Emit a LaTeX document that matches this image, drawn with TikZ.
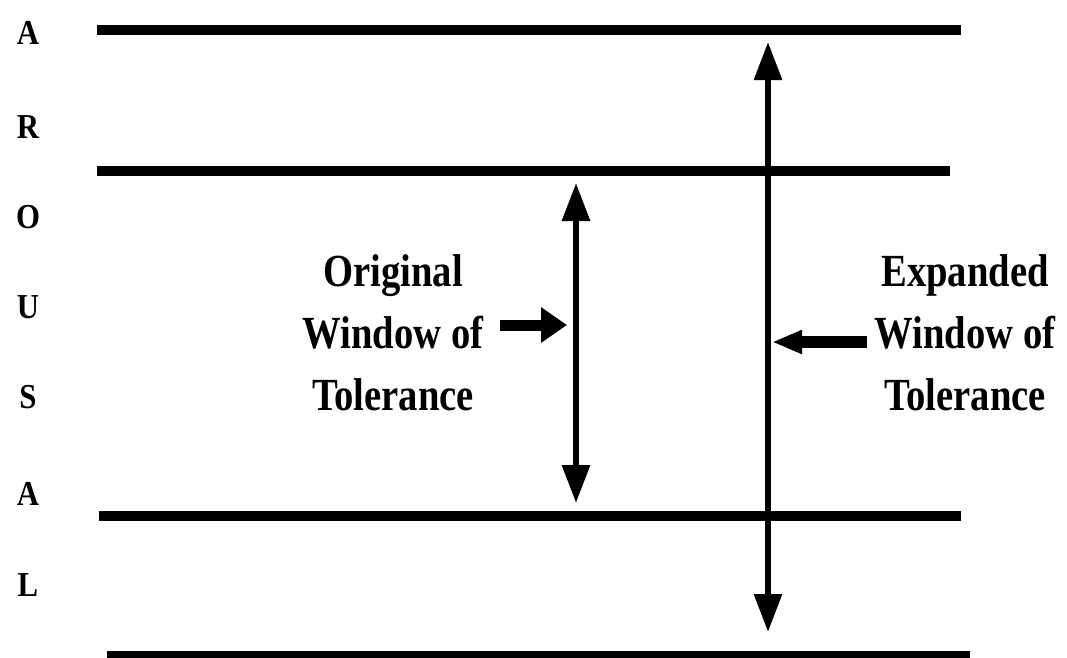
\documentclass[tikz,border=0pt]{standalone}
\usepackage{fontspec}
\setmainfont{Liberation Serif}
\usetikzlibrary{arrows.meta}
\tikzset{
  hline/.style={line width=10pt},
  vdouble/.style={line width=6pt,{Triangle[length=38pt,width=27pt]}-{Triangle[length=38pt,width=27pt]}},
  pointer/.style={line width=11pt,-{Triangle[length=26pt,width=34pt]}},
  pointersmall/.style={line width=12pt,-{Triangle[length=30pt,width=22pt]}},
  letter/.style={font=\fontsize{35}{35}\selectfont\bfseries, xscale=0.88, inner sep=0pt},
  label/.style={font=\fontsize{46}{62}\selectfont\bfseries, xscale=0.84, align=center, inner sep=0pt}
}
\begin{document}
\begin{tikzpicture}[x=1pt,y=-1pt]
\useasboundingbox (0,0) rectangle (1067,657);
% horizontal lines
\coordinate (l1a) at (97,30);  \coordinate (l1b) at (961,30);
\coordinate (l2a) at (97,171); \coordinate (l2b) at (950,171);
\coordinate (l3a) at (99,516); \coordinate (l3b) at (961,516);
\coordinate (l4a) at (107,656); \coordinate (l4b) at (970,656);
\draw[hline] (l1a) -- (l1b);
\draw[hline] (l2a) -- (l2b);
\draw[hline] (l3a) -- (l3b);
\draw[hline] (l4a) -- (l4b);
% AROUSAL letters
\node[letter] (a1) at (28,33) {A};
\node[letter] (r) at (28,127) {R};
\node[letter] (o) at (28,217) {O};
\node[letter] (u) at (28,307) {U};
\node[letter] (s) at (28,397) {S};
\node[letter] (a2) at (28,494) {A};
\node[letter] (l) at (28,585) {L};
% double arrows
\coordinate (ot) at (576,183); \coordinate (ob) at (576,503);
\draw[vdouble] (ob) -- (ot);
\coordinate (et) at (768,42); \coordinate (eb) at (768,632);
\draw[vdouble] (eb) -- (et);
% labels
\node[label] (orig) at (393,333) {Original\\Window of\\Tolerance};
\node[label] (exp) at (965,333) {Expanded\\Window of\\Tolerance};
% pointer arrows
\coordinate (ps) at (500,325); \coordinate (pe) at (567,325);
\draw[pointer] (ps) -- (pe);
\coordinate (qs) at (867,342); \coordinate (qe) at (772,342);
\draw[pointersmall] (qs) -- (qe);
\end{tikzpicture}
\end{document}
